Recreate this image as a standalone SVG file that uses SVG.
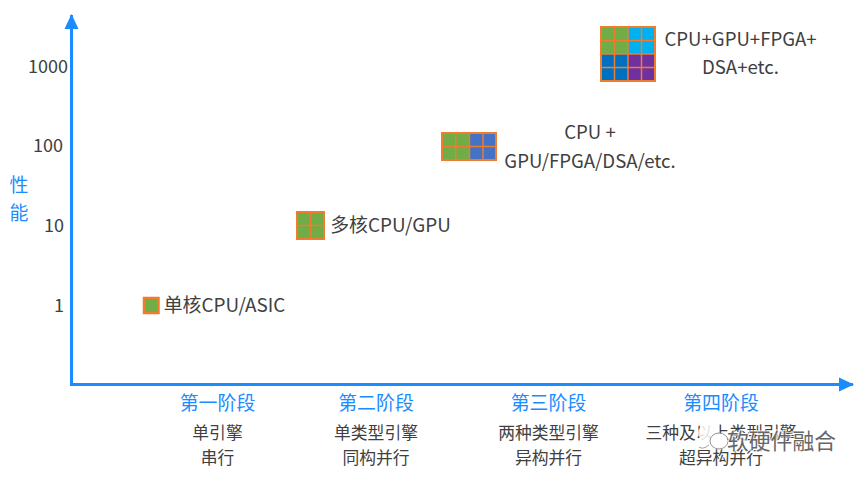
<svg xmlns="http://www.w3.org/2000/svg" width="865" height="477" viewBox="0 0 865 477">
  <style>
    text { font-family: "Noto Sans CJK SC", "Noto Sans", sans-serif; fill: #404040; text-anchor: middle; }
    .v { font-size: 18px; }
    .lab { font-size: 18.9px; }
    .lat { font-size: 18.600px; }
    .blue { fill: #1a8cff; font-size: 18.9px; }
    .sub { font-size: 16.8px; }
    .frame { fill: none; stroke: #f07c2e; stroke-width: 2; }
    .cell { stroke: #f07c2e; stroke-width: 1.5; }
    .g { fill: #70ad47; } .c { fill: #00b0f0; } .d { fill: #0070c0; } .p { fill: #7030a0; } .b { fill: #4472c4; }
    .axis { fill: none; stroke: #1a8cff; stroke-width: 3; }
    .wm { font-size: 21.800px; fill: #666; stroke: #fff; stroke-width: 2px; stroke-opacity: 0.800; paint-order: stroke; text-anchor: start; }
  </style>
  <defs>
    <marker id="head" markerUnits="userSpaceOnUse" markerWidth="16" markerHeight="16" refX="14" refY="8" orient="auto">
      <path d="M0 1 L15 8 L0 15 Z" fill="#1a8cff"/>
    </marker>
  </defs>

  <g id="connectors">
    <path class="axis" d="M71.500 385 V15" marker-end="url(#head)"/>
    <path class="axis" d="M70 384.500 H853" marker-end="url(#head)"/>
  </g>

  <g id="y-axis-labels">
    <text class="v" x="48" y="73">1000</text>
    <text class="v" x="48" y="152">100</text>
    <text class="v" x="54" y="232">10</text>
    <text class="v" x="59" y="312">1</text>
    <text class="blue" x="19" y="192">性</text>
    <text class="blue" x="19" y="220">能</text>
  </g>

  <g id="node-single">
    <rect x="144" y="298" width="14.500" height="15" class="g" stroke="#f07c2e" stroke-width="2.500"/>
    <text class="lab" x="224.500" y="312">单核CPU/ASIC</text>
  </g>

  <g id="node-multi">
    <rect x="297" y="212" width="27" height="27" class="g"/>
    <path class="cell" d="M310.500 212 V239 M297 225.500 H324" fill="none"/>
    <rect x="297" y="212" width="27" height="27" class="frame"/>
    <text class="lab" x="390.500" y="232">多核CPU/GPU</text>
  </g>

  <g id="node-hetero">
    <rect x="442" y="133" width="27.500" height="27" class="g"/>
    <rect x="469.500" y="133" width="27" height="27" class="b"/>
    <path class="cell" d="M455.750 133 V160 M469.500 133 V160 M483 133 V160 M442 146.500 H496" fill="none"/>
    <rect x="442" y="133" width="54" height="27" class="frame"/>
    <text class="lat" x="590" y="139">CPU +</text>
    <text class="lat" x="590" y="168">GPU/FPGA/DSA/etc.</text>
  </g>

  <g id="node-super">
    <rect x="601" y="27" width="27" height="27" class="g"/>
    <rect x="628" y="27" width="27" height="27" class="c"/>
    <rect x="601" y="54" width="27" height="27" class="d"/>
    <rect x="628" y="54" width="27" height="27" class="p"/>
    <path class="cell" d="M614.500 27 V81 M628 27 V81 M641.500 27 V81 M601 40.500 H655 M601 54 H655 M601 67.500 H655" fill="none"/>
    <rect x="601" y="27" width="54" height="54" class="frame"/>
    <text class="lat" x="740.500" y="46">CPU+GPU+FPGA+</text>
    <text class="lat" x="740.500" y="74">DSA+etc.</text>
  </g>

  <g id="stage-1">
    <text class="blue" x="217.500" y="410">第一阶段</text>
    <text class="sub" x="217.500" y="439">单引擎</text>
    <text class="sub" x="217.500" y="464">串行</text>
  </g>
  <g id="stage-2">
    <text class="blue" x="376" y="410">第二阶段</text>
    <text class="sub" x="376" y="439">单类型引擎</text>
    <text class="sub" x="376" y="464">同构并行</text>
  </g>
  <g id="stage-3">
    <text class="blue" x="548.500" y="410">第三阶段</text>
    <text class="sub" x="548.500" y="439">两种类型引擎</text>
    <text class="sub" x="548.500" y="464">异构并行</text>
  </g>
  <g id="stage-4">
    <text class="blue" x="721" y="410">第四阶段</text>
    <text class="sub" x="721" y="439">三种及以上类型引擎</text>
    <text class="sub" x="721" y="464">超异构并行</text>
  </g>

  <g id="watermark">
    <ellipse cx="708" cy="433" rx="10" ry="8.500" fill="#fff" fill-opacity="0.850"/>
    <ellipse cx="719" cy="441" rx="9" ry="8" fill="#fff" stroke="#777" stroke-width="0.800"/>
    <path d="M699 447 q4 3 10 -2" fill="none" stroke="#888" stroke-width="0.800"/>
    <text class="wm" x="727" y="449">软硬件融合</text>
  </g>
</svg>
